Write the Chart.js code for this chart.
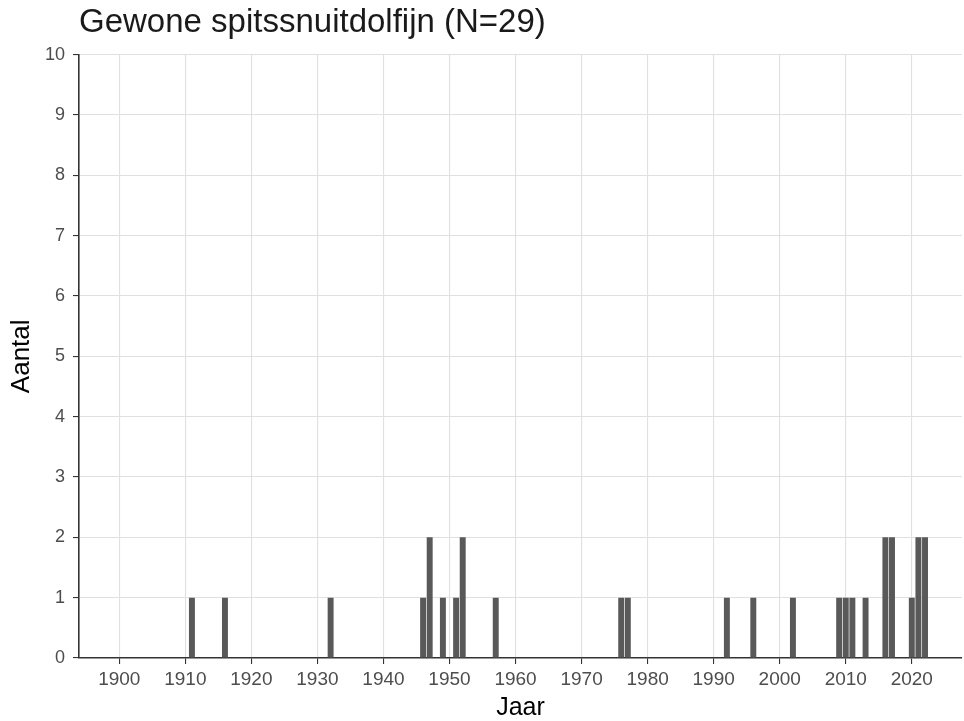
<!DOCTYPE html>
<html>
<head>
<meta charset="utf-8">
<script src="https://cdn.jsdelivr.net/npm/chart.js@4/dist/chart.umd.min.js"></script>
<style>
  html, body { margin: 0; padding: 0; background: #ffffff; }
  #wrap { width: 964px; height: 721px; }
</style>
</head>
<body>
<div id="wrap"><canvas id="c" width="964" height="721"></canvas></div>
<script>
// ---- data ----
const chartTitle = "Gewone spitssnuitdolfijn (N=29)";
const xAxisTitle = "Jaar";
const yAxisTitle = "Aantal";
const years  = [1911, 1916, 1932, 1946, 1947, 1949, 1951, 1952, 1957, 1976, 1977,
                1992, 1996, 2002, 2009, 2010, 2011, 2013, 2016, 2017, 2020, 2021, 2022];
const counts = [1, 1, 1, 1, 2, 1, 1, 2, 1, 1, 1,
                1, 1, 1, 1, 1, 1, 1, 2, 2, 1, 2, 2];
const xTickValues = [1900, 1910, 1920, 1930, 1940, 1950, 1960, 1970, 1980, 1990, 2000, 2010, 2020];
const yTickValues = [0, 1, 2, 3, 4, 5, 6, 7, 8, 9, 10];
const xMin = 1893.9, xMax = 2027.6;
const yMin = 0, yMax = 10;

const FONT = "'Liberation Sans', Arial, Helvetica, sans-serif";
const points = years.map((y, i) => ({ x: y, y: counts[i] }));

new Chart(document.getElementById('c'), {
  type: 'bar',
  data: {
    datasets: [{
      data: points,
      backgroundColor: '#595959',
      borderWidth: 0,
      barPercentage: 0.9,
      categoryPercentage: 1.0
    }]
  },
  options: {
    responsive: false,
    animation: false,
    layout: { padding: { left: 0, right: 2, top: 0, bottom: 0 } },
    plugins: {
      legend: { display: false },
      tooltip: { enabled: false },
      title: {
        display: true,
        text: chartTitle,
        align: 'start',
        fullSize: false,
        color: '#1a1a1a',
        font: { family: FONT, size: 33, weight: 'normal', lineHeight: 1.2 },
        padding: { top: 3, bottom: 12 }
      }
    },
    scales: {
      x: {
        type: 'linear',
        offset: false,
        min: xMin,
        max: xMax,
        afterBuildTicks: (s) => { s.ticks = xTickValues.map(v => ({ value: v })); },
        afterFit: (s) => { s.height = 63; },
        ticks: {
          color: '#4d4d4d',
          font: { family: FONT, size: 19 },
          padding: 4,
          maxRotation: 0,
          autoSkip: false,
          callback: (v) => String(v)
        },
        grid: {
          offset: false,
          color: '#e0e0e0',
          lineWidth: 1.1,
          tickColor: '#333333',
          tickLength: 6,
          drawTicks: true
        },
        border: { display: true, color: '#333333', width: 1.6 },
        title: {
          display: true,
          text: xAxisTitle,
          color: '#000000',
          font: { family: FONT, size: 25, lineHeight: 1 },
          padding: { top: 0, bottom: 0 }
        }
      },
      y: {
        type: 'linear',
        min: yMin,
        max: yMax,
        afterBuildTicks: (s) => { s.ticks = yTickValues.map(v => ({ value: v })); },
        afterFit: (s) => { s.width = 79; },
        ticks: {
          color: '#4d4d4d',
          font: { family: FONT, size: 18 },
          padding: 8,
          callback: (v) => String(v)
        },
        grid: {
          color: '#e0e0e0',
          lineWidth: 1.1,
          tickColor: '#333333',
          tickLength: 6,
          drawTicks: true
        },
        border: { display: true, color: '#333333', width: 1.6 },
        title: {
          display: true,
          text: yAxisTitle,
          color: '#000000',
          font: { family: FONT, size: 26, lineHeight: 1 },
          padding: { top: 9, bottom: 0 }
        }
      }
    }
  }
});
</script>
</body>
</html>
